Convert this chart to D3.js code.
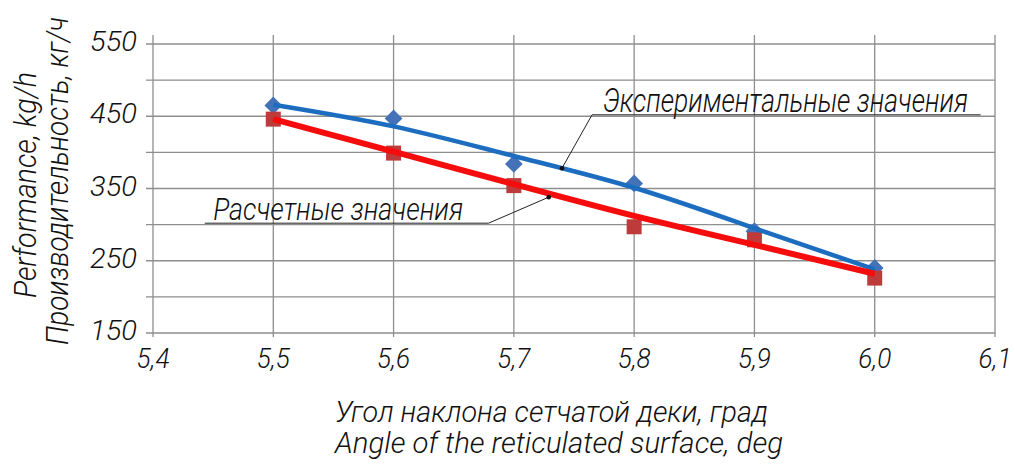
<!DOCTYPE html>
<html>
<head>
<meta charset="utf-8">
<script src="https://cdn.jsdelivr.net/npm/d3@7"></script>
<style>
  html, body { margin: 0; padding: 0; background: #fff; }
  svg text { font-family: Roboto, "Open Sans", sans-serif; font-weight: 300; font-style: italic; fill: #111; }
</style>
</head>
<body>
<div id="chart"></div>
<script>
// angle of the sieve, deg
const angles = [5.5, 5.6, 5.7, 5.8, 5.9, 6.0];
// measured points (blue diamonds)
const experimental = [465, 447, 384, 357, 291, 240];
// calculated points (red squares)
const calculated = [446, 399, 354, 297, 279, 226];
// trend lines as drawn on the chart
const experimentalTrend = [466, 436, 395, 351, 295, 238];
const calculatedTrend = [446, 401, 356, 312, 272, 232];

const xTicks = [5.4, 5.5, 5.6, 5.7, 5.8, 5.9, 6.0, 6.1];
const xTickLabels = ["5,4", "5,5", "5,6", "5,7", "5,8", "5,9", "6,0", "6,1"];
const yGrid = [150, 200, 250, 300, 350, 400, 450, 500, 550];
const yTickLabels = [150, 250, 350, 450, 550];

// leader annotations in data units: [anchor on curve, elbow, end of underline]
const expLeader = [[5.74, 378], [5.765, 452], [6.088, 452]];
const calcLeader = [[5.729, 338], [5.679, 302], [5.443, 302]];

const width = 1015, height = 464;

const svg = d3.select("#chart").append("svg")
    .attr("width", width)
    .attr("height", height);

const x = d3.scaleLinear().domain([5.4, 6.1]).range([153, 995]);
const y = d3.scaleLinear().domain([150, 550]).range([333, 44]);

// --- grid ---
const grid = svg.append("g").attr("stroke", "#8e8e8e").attr("stroke-width", 1.3);
grid.selectAll("line.h")
    .data(yGrid)
    .join("line")
    .attr("class", "h")
    .attr("x1", x(5.4) - 7).attr("x2", x(6.1))
    .attr("y1", d => y(d)).attr("y2", d => y(d));
grid.selectAll("line.v")
    .data(xTicks)
    .join("line")
    .attr("class", "v")
    .attr("x1", d => x(d)).attr("x2", d => x(d))
    .attr("y1", y(550) - 9).attr("y2", y(150) + 4);

// --- tick labels ---
svg.append("g").selectAll("text")
    .data(yTickLabels)
    .join("text")
    .attr("x", 137)
    .attr("y", d => y(d) - 3)
    .attr("dy", "0.36em")
    .attr("text-anchor", "end")
    .attr("font-size", 28)
    .attr("textLength", 47).attr("lengthAdjust", "spacingAndGlyphs")
    .text(d => d);

svg.append("g").selectAll("text")
    .data(xTicks)
    .join("text")
    .attr("x", d => x(d))
    .attr("y", 368)
    .attr("text-anchor", "middle")
    .attr("font-size", 28)
    .attr("textLength", 33).attr("lengthAdjust", "spacingAndGlyphs")
    .text((d, i) => xTickLabels[i]);

// --- axis titles ---
svg.append("text")
    .attr("x", 335).attr("y", 422)
    .attr("font-size", 30)
    .attr("textLength", 433).attr("lengthAdjust", "spacingAndGlyphs")
    .text("Угол наклона сетчатой деки, град");
svg.append("text")
    .attr("x", 335).attr("y", 453)
    .attr("font-size", 30)
    .attr("textLength", 448).attr("lengthAdjust", "spacingAndGlyphs")
    .text("Angle of the reticulated surface, deg");

svg.append("text")
    .attr("transform", "translate(36,298) rotate(-90)")
    .attr("font-size", 31)
    .attr("textLength", 226).attr("lengthAdjust", "spacingAndGlyphs")
    .text("Performance, kg/h");
svg.append("text")
    .attr("transform", "translate(68,345) rotate(-90)")
    .attr("font-size", 31)
    .attr("textLength", 328).attr("lengthAdjust", "spacingAndGlyphs")
    .text("Производительность, кг/ч");

// --- markers ---
const expData = angles.map((a, i) => ({ a, v: experimental[i] }));
const calcData = angles.map((a, i) => ({ a, v: calculated[i] }));

svg.append("g").selectAll("path")
    .data(expData)
    .join("path")
    .attr("d", d3.symbol(d3.symbolDiamond2, 200))
    .attr("transform", d => `translate(${x(d.a)},${y(d.v)})`)
    .attr("fill", "#4472b8");

svg.append("g").selectAll("rect")
    .data(calcData)
    .join("rect")
    .attr("x", d => x(d.a) - 7.5)
    .attr("y", d => y(d.v) - 7.5)
    .attr("width", 15).attr("height", 15)
    .attr("fill", "#bd3b3b");

// --- trend lines ---
const line = d3.line()
    .x(d => x(d[0]))
    .y(d => y(d[1]))
    .curve(d3.curveNatural);

svg.append("path")
    .datum(angles.map((a, i) => [a, experimentalTrend[i]]))
    .attr("fill", "none")
    .attr("stroke", "#1c6cc0")
    .attr("stroke-width", 4.5)
    .attr("d", line);

svg.append("path")
    .datum(angles.map((a, i) => [a, calculatedTrend[i]]))
    .attr("fill", "none")
    .attr("stroke", "#f50d0d")
    .attr("stroke-width", 6)
    .attr("d", line);

// --- leaders and labels ---
const leader = d3.line().x(d => x(d[0])).y(d => y(d[1]));
[expLeader, calcLeader].forEach(pts => {
    svg.append("path")
        .attr("d", leader(pts))
        .attr("fill", "none")
        .attr("stroke", "#222")
        .attr("stroke-width", 1);
    svg.append("circle")
        .attr("cx", x(pts[0][0])).attr("cy", y(pts[0][1]))
        .attr("r", 2.3)
        .attr("fill", "#111");
});

svg.append("text")
    .attr("x", x(5.774)).attr("y", y(456))
    .attr("font-size", 33)
    .attr("textLength", 365).attr("lengthAdjust", "spacingAndGlyphs")
    .text("Экспериментальные значения");

svg.append("text")
    .attr("x", x(5.45)).attr("y", y(306))
    .attr("font-size", 32)
    .attr("textLength", 250).attr("lengthAdjust", "spacingAndGlyphs")
    .text("Расчетные значения");
</script>
</body>
</html>
